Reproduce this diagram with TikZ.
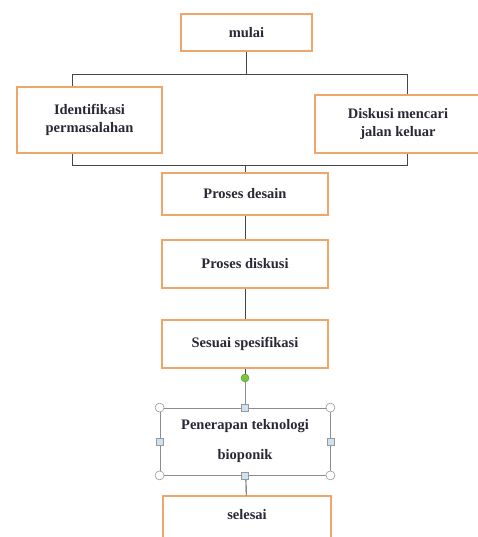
\documentclass[tikz,border=0pt]{standalone}
\usepackage{fontspec}
\setmainfont{Liberation Serif}
\usepackage{tikz}
\usetikzlibrary{shapes}
\definecolor{boxorange}{RGB}{240,165,105}
\definecolor{txtdark}{RGB}{40,40,55}
\definecolor{linegray}{RGB}{70,70,70}
\definecolor{hdlblue}{RGB}{205,225,245}
\definecolor{hdlgreen}{RGB}{120,200,60}
\tikzstyle{bx}=[rectangle,draw=boxorange,line width=1.1pt,fill=white,align=center,
  text=txtdark,font=\fontsize{14.5}{18}\selectfont\bfseries,inner sep=0pt]
\tikzstyle{ln}=[draw=linegray,line width=0.9pt]
\tikzstyle{hc}=[circle,draw=gray!80,fill=white,line width=0.6pt,minimum size=9pt,inner sep=0pt]
\tikzstyle{hs}=[rectangle,draw=gray!80,fill=hdlblue,line width=0.6pt,minimum size=7pt,inner sep=0pt]

\begin{document}
\begin{tikzpicture}[x=1pt,y=-1pt]
\useasboundingbox (0,0) rectangle (478,537);
\clip (0,0) rectangle (478,537);
\fill[white] (0,0) rectangle (478,537);
% boxes
\node[bx,minimum width=131pt,minimum height=37pt] (mulai) at (246.5,32.5) {mulai};
\node[bx,minimum width=145pt,minimum height=66pt] (identif) at (89.5,120) {Identifikasi\\permasalahan};
\node[bx,minimum width=166pt,minimum height=58pt] (diskusi) at (398,124) {Diskusi mencari\\jalan keluar};
\node[bx,minimum width=166pt,minimum height=42pt] (desain) at (245,194) {Proses desain};
\node[bx,minimum width=166pt,minimum height=48pt] (diskusiP) at (245,264) {Proses diskusi};
\node[bx,minimum width=166pt,minimum height=48pt] (sesuai) at (245,344) {Sesuai spesifikasi};
\node[bx,draw=gray!90,line width=0.8pt,minimum width=170pt,minimum height=67pt,
  font=\fontsize{14.5}{30}\selectfont\bfseries] (terap) at (245,441.5) {Penerapan teknologi\\bioponik};
\node[bx,minimum width=168pt,minimum height=60pt] (selesai) at (247,526) {};
\node[text=txtdark,font=\fontsize{14.5}{18}\selectfont\bfseries] (selesaiT) at (247,515) {selesai};
% bars
\coordinate (tl) at (72,74);
\coordinate (tr) at (407,74);
\coordinate (bl) at (72,165);
\coordinate (br) at (407,165);
\draw[ln] (mulai.south) -- (mulai.south |- tl);
\draw[ln] (tl |- identif.north) -- (tl) -- (tr) -- (tr |- diskusi.north);
\draw[ln] (bl |- identif.south) -- (bl) -- (br) -- (br |- diskusi.south);
\draw[ln] (desain.north |- bl) -- (desain.north);
\draw[ln] (desain) -- (diskusiP);
\draw[ln] (diskusiP) -- (sesuai);
% selection handles
\node[circle,fill=hdlgreen,draw=hdlgreen!70!black,line width=0.4pt,minimum size=8pt,inner sep=0pt] (rot) at (245,378) {};
\draw[ln] (sesuai) -- (rot);
\draw[draw=gray!90,line width=0.8pt] (rot) -- (terap.north);
\draw[ln] (terap) -- (selesai);
\node[hc] (c1) at (terap.north west) {};
\node[hc] (c2) at (terap.north east) {};
\node[hc] (c3) at (terap.south west) {};
\node[hc] (c4) at (terap.south east) {};
\node[hs] (s1) at (terap.north) {};
\node[hs] (s2) at (terap.south) {};
\node[hs] (s3) at (terap.west) {};
\node[hs] (s4) at (terap.east) {};
\end{tikzpicture}
\end{document}
